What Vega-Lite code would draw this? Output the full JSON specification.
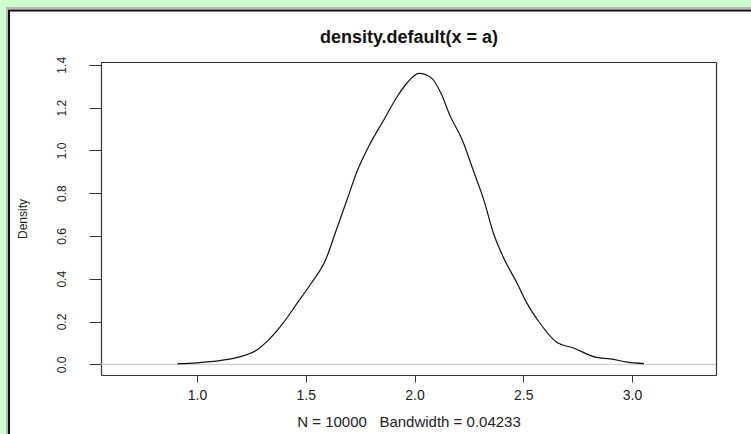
{
  "$schema": "https://vega.github.io/schema/vega-lite/v6.json",
  "autosize": "none",
  "width": 615,
  "height": 313,
  "padding": {"left": 101, "top": 62, "right": 35, "bottom": 59},
  "background": "#ffffff",
  "config": {
    "view": {"stroke": null},
    "font": "Liberation Sans",
    "axis": {"grid": false}
  },
  "data": {
    "values": [
      {"x": 0.91, "density": 0.003},
      {"x": 1.0, "density": 0.007},
      {"x": 1.11, "density": 0.018},
      {"x": 1.195, "density": 0.035},
      {"x": 1.273, "density": 0.066},
      {"x": 1.327, "density": 0.112},
      {"x": 1.394, "density": 0.19},
      {"x": 1.46, "density": 0.285},
      {"x": 1.526, "density": 0.38},
      {"x": 1.592, "density": 0.49},
      {"x": 1.636, "density": 0.615},
      {"x": 1.69, "density": 0.77},
      {"x": 1.735, "density": 0.9},
      {"x": 1.79, "density": 1.02},
      {"x": 1.856, "density": 1.137},
      {"x": 1.922, "density": 1.254},
      {"x": 1.966, "density": 1.316},
      {"x": 2.021, "density": 1.36},
      {"x": 2.076, "density": 1.34},
      {"x": 2.12, "density": 1.27},
      {"x": 2.164, "density": 1.16},
      {"x": 2.219, "density": 1.05},
      {"x": 2.274, "density": 0.895},
      {"x": 2.318, "density": 0.77},
      {"x": 2.362, "density": 0.615},
      {"x": 2.406, "density": 0.505},
      {"x": 2.471, "density": 0.38},
      {"x": 2.516, "density": 0.287},
      {"x": 2.571, "density": 0.2},
      {"x": 2.649, "density": 0.107},
      {"x": 2.737, "density": 0.074},
      {"x": 2.836, "density": 0.032},
      {"x": 2.9, "density": 0.025},
      {"x": 2.979, "density": 0.01},
      {"x": 3.055, "density": 0.003}
    ]
  },
  "layer": [
    {
      "data": {"values": [{}]},
      "mark": {"type": "rect", "fill": null, "stroke": "#ccffcc", "strokeWidth": 16, "clip": false},
      "encoding": {
        "x": {"datum": 0.0851, "type": "quantitative", "scale": {"domain": [0.5586, 3.386], "nice": false, "zero": false}, "axis": null},
        "x2": {"datum": 3.634},
        "y": {"datum": 1.7075, "type": "quantitative", "scale": {"domain": [-0.05, 1.413], "nice": false, "zero": false}, "axis": null},
        "y2": {"datum": -0.4006}
      }
    },
    {
      "data": {"values": [{}]},
      "mark": {"type": "rect", "fill": null, "stroke": "#b8b8b8", "strokeWidth": 2, "clip": false},
      "encoding": {
        "x": {"datum": 0.1264, "type": "quantitative", "scale": {"domain": [0.5586, 3.386], "nice": false, "zero": false}, "axis": null},
        "x2": {"datum": 3.634},
        "y": {"datum": 1.6654, "type": "quantitative", "scale": {"domain": [-0.05, 1.413], "nice": false, "zero": false}, "axis": null},
        "y2": {"datum": -0.4006}
      }
    },
    {
      "data": {"values": [{}]},
      "mark": {"type": "rect", "fill": null, "stroke": "#111111", "strokeWidth": 2, "clip": false},
      "encoding": {
        "x": {"datum": 0.1356, "type": "quantitative", "scale": {"domain": [0.5586, 3.386], "nice": false, "zero": false}, "axis": null},
        "x2": {"datum": 3.634},
        "y": {"datum": 1.6537, "type": "quantitative", "scale": {"domain": [-0.05, 1.413], "nice": false, "zero": false}, "axis": null},
        "y2": {"datum": -0.4006}
      }
    },
    {
      "data": {"values": [{}]},
      "mark": {"type": "rule", "color": "#c4c4c4", "strokeWidth": 1},
      "encoding": {
        "x": {
          "datum": 0.5586,
          "type": "quantitative",
          "scale": {"domain": [0.5586, 3.386], "nice": false, "zero": false},
          "axis": {
            "orient": "top",
            "labels": false,
            "ticks": false,
            "domainColor": "#333333",
            "domainWidth": 1.2,
            "title": "density.default(x = a)",
            "titleFont": "Liberation Sans",
            "titleFontSize": 18,
            "titleFontWeight": "bold",
            "titleColor": "#111111",
            "titlePadding": 16
          }
        },
        "x2": {"datum": 3.386},
        "y": {
          "datum": 0,
          "type": "quantitative",
          "scale": {"domain": [-0.05, 1.413], "nice": false, "zero": false},
          "axis": {"orient": "right", "labels": false, "ticks": false, "domainColor": "#333333", "domainWidth": 1.2, "title": null}
        }
      }
    },
    {
      "mark": {"type": "line", "color": "#111111", "strokeWidth": 1.2, "interpolate": "monotone"},
      "encoding": {
        "x": {
          "field": "x",
          "type": "quantitative",
          "scale": {"domain": [0.5586, 3.386], "nice": false, "zero": false},
          "axis": {
            "orient": "bottom",
            "values": [1, 1.5, 2, 2.5, 3],
            "format": ".1f",
            "domainColor": "#333333",
            "domainWidth": 1.2,
            "tickColor": "#333333",
            "tickSize": 7,
            "labelFont": "Liberation Sans",
            "labelFontSize": 14,
            "labelColor": "#222222",
            "labelPadding": 6,
            "title": "N = 10000\u00a0\u00a0\u00a0Bandwidth = 0.04233",
            "titleFont": "Liberation Sans",
            "titleFontSize": 15,
            "titleFontWeight": "normal",
            "titleColor": "#222222",
            "titlePadding": 12
          }
        },
        "y": {
          "field": "density",
          "type": "quantitative",
          "scale": {"domain": [-0.05, 1.413], "nice": false, "zero": false},
          "axis": {
            "orient": "left",
            "values": [0, 0.2, 0.4, 0.6, 0.8, 1.0, 1.2, 1.4],
            "format": ".1f",
            "domainColor": "#333333",
            "domainWidth": 1.2,
            "tickColor": "#333333",
            "tickSize": 12,
            "labelFont": "Liberation Sans",
            "labelFontSize": 12,
            "labelColor": "#222222",
            "labelAngle": 270,
            "labelAlign": "center",
            "labelBaseline": "bottom",
            "labelPadding": 21,
            "title": "Density",
            "titleFont": "Liberation Sans",
            "titleFontSize": 12,
            "titleFontWeight": "normal",
            "titleColor": "#222222",
            "titlePadding": 26
          }
        }
      }
    }
  ],
  "resolve": {"axis": {"x": "independent", "y": "independent"}}
}
